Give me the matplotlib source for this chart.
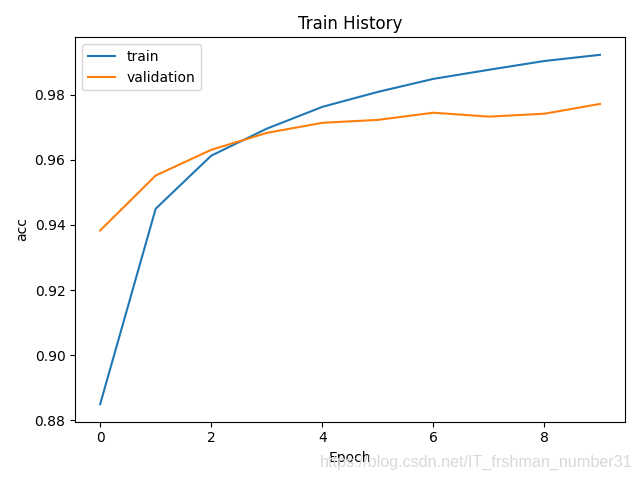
import matplotlib
matplotlib.use("Agg")
import matplotlib.pyplot as plt

epochs = list(range(10))
train_acc = [0.8849, 0.9450, 0.9613, 0.9696, 0.9763, 0.9809, 0.9849, 0.9877, 0.9904, 0.9923]
val_acc = [0.9383, 0.9552, 0.9631, 0.9683, 0.9714, 0.9723, 0.9745, 0.9733, 0.9742, 0.9772]

fig = plt.figure(figsize=(6.4, 4.8), dpi=100)
plt.plot(epochs, train_acc)
plt.plot(epochs, val_acc)
plt.title("Train History")
plt.ylabel("acc")
plt.xlabel("Epoch")
plt.legend(["train", "validation"], loc="upper left")
plt.tight_layout()
# csdn watermark
fig.text(0.988, 0.028, "https://blog.csdn.net/IT_frshman_number31",
         color="#d8d8d8", fontsize=11.6, family="Liberation Sans", ha="right")
plt.savefig("out.png", dpi=100)
